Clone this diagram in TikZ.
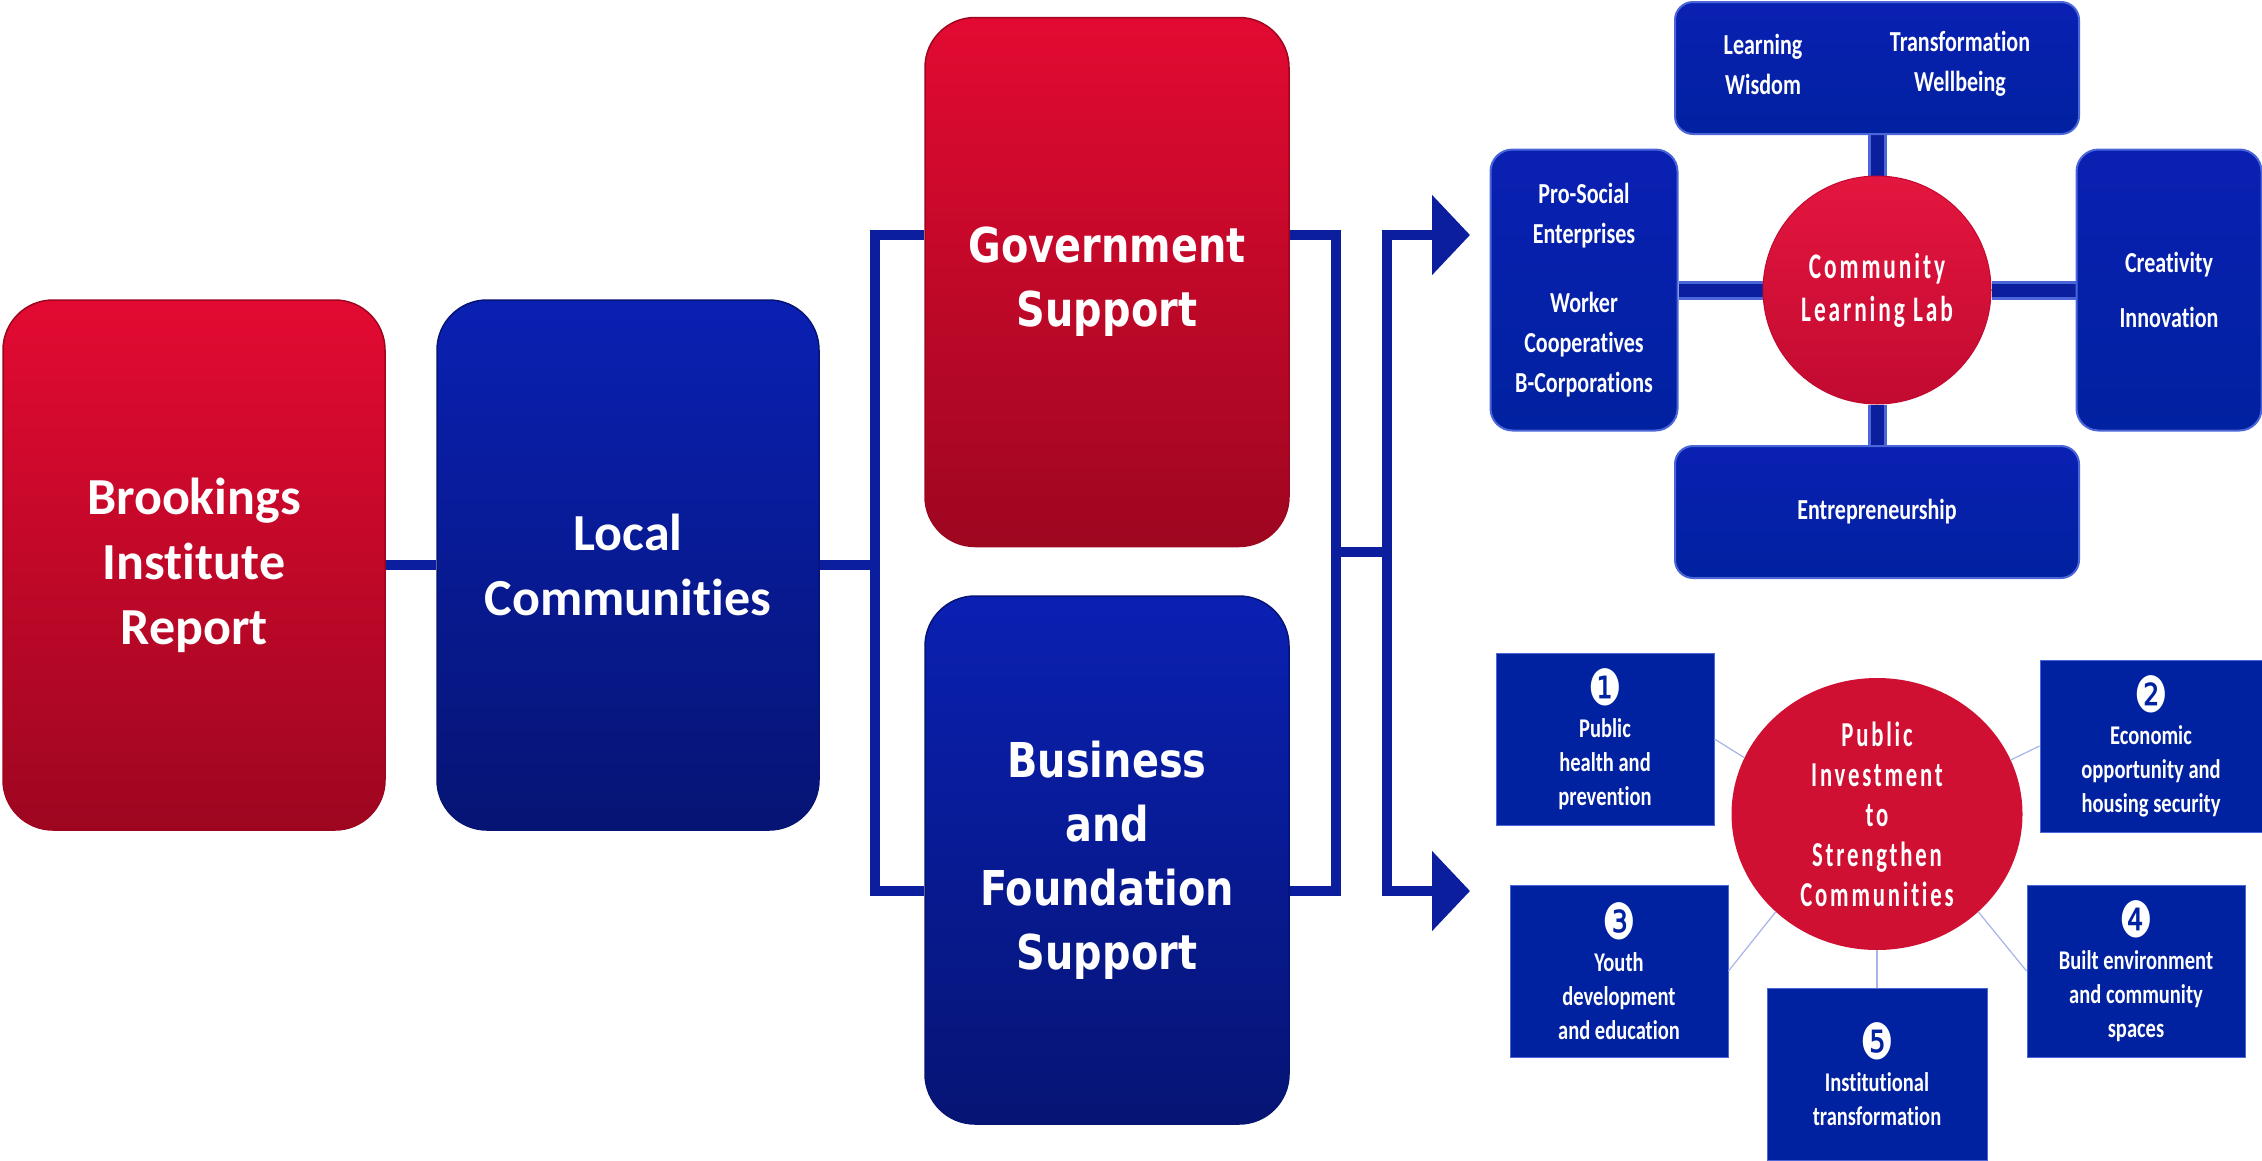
\documentclass[tikz,border=0pt]{standalone}
\usepackage{fontspec}
\setmainfont{Carlito}[Ligatures=NoCommon]
\newfontfamily\condfont[FakeStretch=0.76,Ligatures=NoCommon]{Carlito}
\newfontfamily\widefont[FakeStretch=0.83]{DejaVu Sans}
\newfontfamily\spacedfont[FakeStretch=0.65,LetterSpace=8,Ligatures=NoCommon]{Carlito}
\newfontfamily\numfont[FakeStretch=0.75]{DejaVu Sans}
\newcommand{\numglyph}[1]{{\numfont\mdseries\fontsize{50}{40}\selectfont #1}}
\usepackage{tikz}
\usetikzlibrary{arrows.meta, positioning, shapes.geometric, backgrounds}

\definecolor{brred}{HTML}{E30A32}
\definecolor{brreddark}{HTML}{9E0620}
\definecolor{brblue}{HTML}{0A20B2}
\definecolor{brbluedark}{HTML}{061474}
\definecolor{linkblue}{HTML}{0A1E9E}
\definecolor{edgeblue}{HTML}{4A66D8}
\definecolor{labred}{HTML}{E4163F}
\definecolor{labreddark}{HTML}{C20A30}
\definecolor{pired}{HTML}{D01032}
\definecolor{flatblue}{HTML}{0021A0}
\definecolor{thinline}{HTML}{A8B4E8}

\begin{document}
\begin{tikzpicture}[x=1pt, y=1pt,
    bigbox/.style={rounded corners=50pt, minimum width=382pt, minimum height=530pt,
        align=center, text=white, inner sep=0pt, line width=1.5pt},
    redbox/.style={bigbox, top color=brred, bottom color=brreddark, draw=brreddark},
    bluebox/.style={bigbox, top color=brblue, bottom color=brbluedark, draw=brbluedark},
    calbig/.style={font=\fontsize{52}{65}\selectfont\bfseries},
    widebig/.style={font=\widefont\fontsize{48}{64}\selectfont\bfseries},
    conn/.style={draw=linkblue, line width=10pt},
    labbox/.style={rounded corners=22pt, top color=brblue, bottom color=flatblue,
        draw=edgeblue, line width=2pt, inner sep=0pt, align=center, text=white,
        font=\condfont\fontsize{29}{40}\selectfont\bfseries},
    labtext/.style={align=center, text=white, inner sep=0pt,
        font=\condfont\fontsize{29}{40}\selectfont\bfseries},
    labconn/.style={draw=edgeblue, line width=3pt, double=linkblue, double distance=13pt},
    pibox/.style={fill=flatblue, draw=edgeblue, line width=1pt, minimum width=218pt,
        minimum height=172pt, inner sep=0pt, align=center, text=white,
        font=\condfont\fontsize{27}{34}\selectfont\bfseries},
    thinlink/.style={draw=thinline, line width=1.2pt}]
    \useasboundingbox (0,0) rectangle (2262,-1160);

    % Main chain
    \node[redbox, calbig] (brook) at (194,-565) {Brookings\\Institute\\Report};
    \node[bluebox, calbig] (local) at (628,-565) {Local\\Communities};
    \node[redbox, widebig, minimum width=364pt, minimum height=529pt] (gov) at (1107,-282) {Government\\Support};
    \node[bluebox, widebig, minimum width=364pt, minimum height=528pt] (bus) at (1107,-860) {Business\\and\\Foundation\\Support};

    \draw[conn] (brook.east) -- (local.west);

    % Brackets
    \coordinate (lb) at (875,-565);
    \coordinate (rb) at (1336,-552);
    \coordinate (ab) at (1387,-552);
    \coordinate (t1) at (1470,-235);
    \coordinate (t2) at (1470,-891);
    \draw[conn] (local.east) -- (lb);
    \draw[conn] ([yshift=47pt]gov.west) -| (lb) |- ([yshift=-31pt]bus.west);
    \draw[conn] ([yshift=47pt]gov.east) -| (rb) |- ([yshift=-31pt]bus.east);
    \draw[conn] (rb) -- (ab);
    \draw[conn, -{Triangle[length=38pt,width=78pt]}] (ab) |- (t1);
    \draw[conn, -{Triangle[length=38pt,width=78pt]}] (ab) |- (t2);

    % Community learning lab
    \node[circle, minimum size=228pt, inner sep=0pt, top color=labred, bottom color=labreddark,
        draw=labreddark, line width=1pt, align=center, text=white,
        font=\spacedfont\fontsize{36}{43}\selectfont\bfseries] (lab) at (1877,-290) {Community\\Learning Lab};
    \node[labbox, minimum width=404pt, minimum height=132pt, rounded corners=18pt] (tb) at (1877,-68) {};
    \node[labtext] (tbl) at (1763,-64) {Learning\\Wisdom};
    \node[labtext] (tbr) at (1960,-64) {Transformation\\Wellbeing};
    \node[labbox, minimum width=187pt, minimum height=281pt] (lbx) at (1584,-290) {Pro-Social\\Enterprises\\[29pt]Worker\\Cooperatives\\B-Corporations};
    \node[labbox, minimum width=185pt, minimum height=281pt] (rbx) at (2169,-290) {Creativity\\[15pt]Innovation};
    \node[labbox, minimum width=404pt, minimum height=132pt, rounded corners=18pt] (bb) at (1877,-512) {Entrepreneurship};

    % Public investment
    \node[ellipse, minimum width=291pt, minimum height=272pt, inner sep=0pt, fill=pired,
        align=center, text=white, font=\spacedfont\fontsize{35}{40}\selectfont\bfseries] (pi) at (1877,-814)
        {Public\\Investment\\to\\Strengthen\\Communities};
    \node[pibox] (b1) at (1605,-739) {\numglyph{❶}\\[-2pt]Public\\health and\\prevention};
    \node[pibox, minimum width=222pt] (b2) at (2151,-746) {\numglyph{❷}\\[-2pt]Economic\\opportunity and\\housing security};
    \node[pibox] (b3) at (1619,-971) {\numglyph{❸}\\[-2pt]Youth\\development\\and education};
    \node[pibox] (b4) at (2136,-971) {\numglyph{❹}\\[-2pt]Built environment\\and community\\spaces};
    \node[pibox, minimum width=220pt] (b5) at (1877,-1074) {\numglyph{❺}\\[-2pt]Institutional\\transformation};

    \draw[thinlink] (b1.east) -- (pi.157.5);
    \draw[thinlink] (b2.west) -- (pi.22.5);
    \draw[thinlink] (b3.east) -- (pi.-136);
    \draw[thinlink] (b4.west) -- (pi.-44);
    \draw[thinlink] (b5.north) -- (pi.south);

    \begin{scope}[on background layer]
        \fill[white] (0,0) rectangle (2262,-1160);
        \draw[labconn] (lab) -- (tb);
        \draw[labconn] (lab) -- (bb);
        \draw[labconn] (lab) -- (lbx);
        \draw[labconn] (lab) -- (rbx);
    \end{scope}
\end{tikzpicture}
\end{document}
